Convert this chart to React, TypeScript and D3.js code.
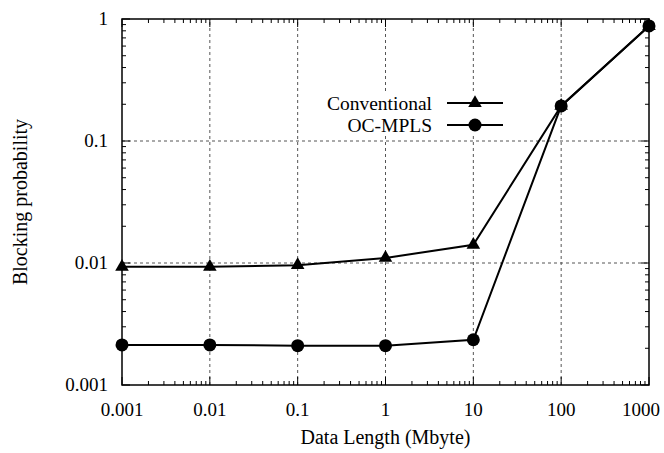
import React, { useEffect, useRef } from 'react';
import * as d3 from 'd3';

// x values (Mbyte)
const dataLengths = [0.001, 0.01, 0.1, 1, 10, 100, 1000];
// blocking probability per series
const conventional = [0.0093, 0.0093, 0.0096, 0.011, 0.0141, 0.194, 0.877];
const ocMpls = [0.00213, 0.00213, 0.0021, 0.0021, 0.00235, 0.194, 0.877];
const xTicks = [0.001, 0.01, 0.1, 1, 10, 100, 1000];
const yTicks = [0.001, 0.01, 0.1, 1];
const seriesNames = ['Conventional', 'OC-MPLS'];

const App = () => {
  const ref = useRef<SVGSVGElement>(null);

  const W = 664;
  const H = 453;
  const margin = { top: 19, right: 15, bottom: 68, left: 122 };

  useEffect(() => {
    if (!ref.current) return;
    const svg = d3.select(ref.current);
    svg.selectAll('*').remove();

    const font = "'Liberation Serif', 'DejaVu Serif', Times, serif";
    const x = d3.scaleLog().domain([0.001, 1000]).range([margin.left, W - margin.right]);
    const y = d3.scaleLog().domain([0.001, 1]).range([H - margin.bottom, margin.top]);
    const [x0, x1] = x.range();
    const [y0, y1] = y.range();

    svg.append('rect').attr('width', W).attr('height', H).attr('fill', '#fff');

    // grid
    const grid = svg.append('g').attr('stroke', '#555').attr('stroke-width', 1).attr('stroke-dasharray', '3,3');
    xTicks.slice(1, -1).forEach(t => {
      grid.append('line').attr('x1', x(t)).attr('x2', x(t)).attr('y1', y0).attr('y2', y1);
    });
    yTicks.slice(1, -1).forEach(t => {
      grid.append('line').attr('y1', y(t)).attr('y2', y(t)).attr('x1', x0).attr('x2', x1);
    });

    // minor/major ticks on all sides
    const ticks = svg.append('g').attr('stroke', '#000').attr('stroke-width', 1);
    const minorX: number[] = [];
    for (let d = 0.001; d < 1000; d *= 10) for (let k = 2; k <= 9; k++) minorX.push(d * k);
    const minorY: number[] = [];
    for (let d = 0.001; d < 1; d *= 10) for (let k = 2; k <= 9; k++) minorY.push(d * k);
    minorX.forEach(t => {
      ticks.append('line').attr('x1', x(t)).attr('x2', x(t)).attr('y1', y0).attr('y2', y0 - 4);
      ticks.append('line').attr('x1', x(t)).attr('x2', x(t)).attr('y1', y1).attr('y2', y1 + 4);
    });
    minorY.forEach(t => {
      ticks.append('line').attr('y1', y(t)).attr('y2', y(t)).attr('x1', x0).attr('x2', x0 + 4);
      ticks.append('line').attr('y1', y(t)).attr('y2', y(t)).attr('x1', x1).attr('x2', x1 - 4);
    });
    xTicks.forEach(t => {
      ticks.append('line').attr('x1', x(t)).attr('x2', x(t)).attr('y1', y0).attr('y2', y0 - 8);
      ticks.append('line').attr('x1', x(t)).attr('x2', x(t)).attr('y1', y1).attr('y2', y1 + 8);
    });
    yTicks.forEach(t => {
      ticks.append('line').attr('y1', y(t)).attr('y2', y(t)).attr('x1', x0).attr('x2', x0 + 8);
      ticks.append('line').attr('y1', y(t)).attr('y2', y(t)).attr('x1', x1).attr('x2', x1 - 8);
    });

    // frame
    svg.append('rect')
      .attr('x', x0).attr('y', y1).attr('width', x1 - x0).attr('height', y0 - y1)
      .attr('fill', 'none').attr('stroke', '#000').attr('stroke-width', 1.5);

    const text = (sel: d3.Selection<SVGTextElement, unknown, null, undefined>, size: number) =>
      sel.style('font-family', font).style('font-size', `${size}px`).attr('fill', '#000');

    // tick labels (keep the last one inside the page)
    xTicks.forEach(t => {
      text(svg.append('text').attr('x', Math.min(x(t), W - 23)).attr('y', y0 + 31).attr('text-anchor', 'middle'), 19)
        .text(String(t));
    });
    yTicks.forEach(t => {
      text(svg.append('text').attr('x', 108).attr('y', y(t)).attr('dy', '0.34em').attr('text-anchor', 'end'), 19)
        .text(String(t));
    });

    // axis titles
    text(svg.append('text').attr('x', (x0 + x1) / 2).attr('y', H - 9).attr('text-anchor', 'middle'), 20)
      .text('Data Length (Mbyte)');
    text(svg.append('text').attr('transform', `translate(27,${(y0 + y1) / 2}) rotate(-90)`).attr('text-anchor', 'middle'), 20)
      .text('Blocking probability');

    const line = d3.line<number>().x((_, i) => x(dataLengths[i])).y(d => y(d));
    const tri = d3.symbol().type(d3.symbolTriangle).size(80);

    const drawSeries = (vals: number[], marker: 'tri' | 'circle') => {
      svg.append('path').datum(vals).attr('d', line).attr('fill', 'none')
        .attr('stroke', '#000').attr('stroke-width', 2);
      vals.forEach((v, i) => {
        if (marker === 'circle') {
          svg.append('circle').attr('cx', x(dataLengths[i])).attr('cy', y(v)).attr('r', 6.5).attr('fill', '#000');
        } else {
          svg.append('path').attr('d', tri).attr('transform', `translate(${x(dataLengths[i])},${y(v)})`).attr('fill', '#000');
        }
      });
    };
    drawSeries(conventional, 'tri');
    drawSeries(ocMpls, 'circle');

    // legend
    const legend = svg.append('g');
    seriesNames.forEach((name, i) => {
      const ly = 103 + i * 22;
      legend.append('rect').attr('x', 312).attr('y', ly - 11).attr('width', 198).attr('height', 22).attr('fill', '#fff');
      text(legend.append('text').attr('x', 432).attr('y', ly).attr('dy', '0.34em').attr('text-anchor', 'end'), 19.5)
        .text(name);
      legend.append('line').attr('x1', 447).attr('x2', 503).attr('y1', ly).attr('y2', ly)
        .attr('stroke', '#000').attr('stroke-width', 2);
      if (i === 0) {
        legend.append('path').attr('d', tri).attr('transform', `translate(475,${ly})`).attr('fill', '#000');
      } else {
        legend.append('circle').attr('cx', 475).attr('cy', ly).attr('r', 6.5).attr('fill', '#000');
      }
    });
  }, []);

  return (
    <svg ref={ref} width={W} height={H} style={{ position: 'absolute', left: 0, top: 0 }} />
  );
};

export default App;
